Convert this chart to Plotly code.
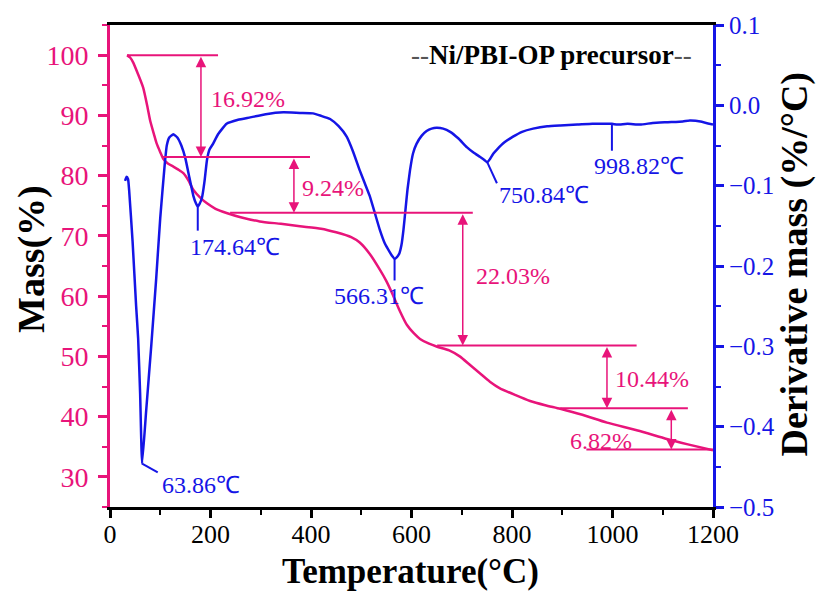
import numpy as np
import plotly.graph_objects as go

# ---- data -------------------------------------------------------------
# TG curve: residual mass (%) vs temperature (°C)
temp_mass = [34, 40, 46, 55, 66, 75, 80, 87, 93, 100, 106, 115, 126, 136, 146,
             156, 166, 180, 193, 210, 232, 260, 298, 340, 378, 420, 450, 480,
             497, 517, 537, 550, 563, 577, 591, 605, 617, 635, 651, 675, 696,
             716, 736, 756, 776, 806, 836, 866, 896, 940, 989, 1050, 1108,
             1150, 1200]
mass_pct = [100.0, 99.6, 98.8, 97.0, 94.6, 91.2, 89.1, 87.0, 85.3, 83.9, 82.8,
            82.0, 81.5, 81.0, 80.4, 79.2, 77.6, 76.3, 75.4, 74.5, 73.8, 73.1,
            72.4, 72.0, 71.6, 71.2, 70.6, 69.8, 68.9, 67.0, 64.4, 62.5, 60.2,
            57.5, 55.2, 53.8, 52.9, 52.1, 51.6, 51.0, 50.0, 48.6, 47.2, 45.8,
            44.7, 43.6, 42.6, 41.9, 41.3, 40.3, 39.0, 37.7, 36.3, 35.4, 34.4]

# DTG curve: derivative mass (%/°C) vs temperature (°C)
temp_dtg = [30, 33, 36, 38, 45, 52, 56, 60, 63.86, 72, 82, 92, 100, 109, 113,
            118, 126, 134, 142, 150, 158, 166, 171, 174.64, 178, 183, 188, 193,
            198, 205, 215, 232, 255, 279, 310, 345, 378, 404, 420, 438, 455,
            471, 484, 497, 507, 517, 527, 537, 547, 557, 562, 566.31, 571, 576,
            580, 584, 588, 592, 597, 603, 610, 620, 630, 640, 650, 663, 677,
            693, 710, 724, 736, 745, 750.84, 756, 763, 770, 785, 802, 820, 842,
            870, 896, 930, 960, 985, 998.82, 1010, 1030, 1055, 1080, 1110, 1140,
            1154, 1175, 1200]
dtg_rate = [-0.094, -0.089, -0.092, -0.105, -0.170, -0.250, -0.290, -0.360,
            -0.446, -0.380, -0.300, -0.215, -0.140, -0.073, -0.050, -0.040,
            -0.036, -0.040, -0.050, -0.066, -0.090, -0.113, -0.122, -0.126,
            -0.123, -0.115, -0.095, -0.068, -0.055, -0.048, -0.036, -0.023,
            -0.018, -0.015, -0.011, -0.0087, -0.0095, -0.010, -0.013, -0.017,
            -0.026, -0.039, -0.058, -0.081, -0.097, -0.113, -0.134, -0.155,
            -0.172, -0.183, -0.188, -0.191, -0.189, -0.184, -0.174, -0.155,
            -0.130, -0.105, -0.081, -0.060, -0.048, -0.038, -0.032, -0.029,
            -0.028, -0.029, -0.033, -0.041, -0.052, -0.059, -0.064, -0.068,
            -0.071, -0.067, -0.060, -0.055, -0.046, -0.039, -0.033, -0.029,
            -0.026, -0.025, -0.024, -0.023, -0.023, -0.023, -0.024, -0.023,
            -0.024, -0.022, -0.021, -0.020, -0.019, -0.020, -0.024]

peak_temps = [63.86, 174.64, 566.31, 750.84, 998.82]
step_losses = [16.92, 9.24, 22.03, 10.44, 6.82]
x_ticks = [0, 200, 400, 600, 800, 1000, 1200]
mass_ticks = [30, 40, 50, 60, 70, 80, 90, 100]
dtg_ticks = [-0.5, -0.4, -0.3, -0.2, -0.1, 0.0, 0.1]

# ---- styling / layout constants ---------------------------------------
PINK = "#E8147A"
BLUE = "#1515E6"
SERIF = "Liberation Serif, Times New Roman, serif"

# horizontal reference lines (T start, T end) for each mass plateau
level_spans = [(34, 215), (105, 398), (239, 722), (651, 1048), (896, 1150), (948, 1200)]
arrow_x = [181, 366, 702, 989, 1117]
loss_label_pos = [(275, 92.7), (444, 77.9), (801, 63.4), (1079, 46.3), (978, 36.0)]
# leader line end points and label positions for DTG peaks
leader_end = [(95, -0.457), (174.64, -0.156), (566.31, -0.218), (770, -0.097), (998.82, -0.0565)]
peak_label_pos = [(99, -0.472, "left"), (249, -0.176, "center"), (535, -0.2376, "center"),
                  (864, -0.112, "center"), (1053, -0.075, "center")]

# plateau levels derived from the step losses
levels = [100.0]
for loss in step_losses:
    levels.append(round(levels[-1] - loss, 2))

fig = go.Figure()
fig.add_trace(go.Scatter(x=temp_mass, y=mass_pct, mode="lines", yaxis="y",
                         line=dict(color=PINK, width=2.5, shape="spline", smoothing=0.6),
                         showlegend=False, hoverinfo="skip"))
fig.add_trace(go.Scatter(x=temp_dtg, y=dtg_rate, mode="lines", yaxis="y2",
                         line=dict(color=BLUE, width=2.5, shape="spline", smoothing=0.4),
                         showlegend=False, hoverinfo="skip"))

shapes = []
annotations = []

# plateau lines
for lvl, (x0, x1) in zip(levels, level_spans):
    shapes.append(dict(type="line", xref="x", yref="y", x0=x0, x1=x1, y0=lvl, y1=lvl,
                       line=dict(color=PINK, width=2)))

# double-headed arrows and loss labels
for i, loss in enumerate(step_losses):
    annotations.append(dict(x=arrow_x[i], y=levels[i + 1], ax=arrow_x[i], ay=levels[i],
                            xref="x", yref="y", axref="x", ayref="y", text="",
                            showarrow=True, arrowside="end+start", arrowhead=2,
                            arrowsize=1.4, arrowwidth=1.5, arrowcolor=PINK, standoff=0,
                            startstandoff=0))
    lx, ly = loss_label_pos[i]
    annotations.append(dict(x=lx, y=ly, xref="x", yref="y", text=f"{loss:.2f}%",
                            xanchor="center", yanchor="middle", showarrow=False,
                            font=dict(family=SERIF, size=24, color=PINK)))

# DTG peak markers
for i, pk in enumerate(peak_temps):
    py = float(np.interp(pk, temp_dtg, dtg_rate))
    ex, ey = leader_end[i]
    shapes.append(dict(type="line", xref="x", yref="y2", x0=pk, y0=py, x1=ex, y1=ey,
                       line=dict(color=BLUE, width=2)))
    lx, ly, anc = peak_label_pos[i]
    annotations.append(dict(x=lx, y=ly, xref="x", yref="y2", text=f"{pk:.2f}℃",
                            xanchor=anc, yanchor="middle", showarrow=False,
                            font=dict(family=SERIF, size=24, color=BLUE)))

# sample name
annotations.append(dict(x=0.733, y=0.938, xref="paper", yref="paper", showarrow=False,
                        xanchor="center", yanchor="middle",
                        text="<span style='font-weight:normal;color:#555'>--</span>"
                             "<b>Ni/PBI-OP precursor</b>"
                             "<span style='font-weight:normal;color:#555'>--</span>",
                        font=dict(family=SERIF, size=27, color="black")))

# axis titles
title_font = dict(family=SERIF, size=38, color="black")
annotations.append(dict(x=-0.129, y=0.515, xref="paper", yref="paper", showarrow=False,
                        xanchor="center", yanchor="middle",
                        text="<b>Mass(%)</b>", textangle=-90, font=title_font))
annotations.append(dict(x=0.499, y=-0.1335, xref="paper", yref="paper", showarrow=False,
                        xanchor="center", yanchor="middle",
                        text="<b>Temperature(°C)</b>",
                        font=dict(family=SERIF, size=35, color="black")))
annotations.append(dict(x=1.136, y=0.503, xref="paper", yref="paper", showarrow=False,
                        xanchor="center", yanchor="middle",
                        text="<b>Derivative mass (%/°C)</b>", textangle=-90, font=title_font))

fig.update_layout(
    width=819, height=593,
    margin=dict(l=110, r=106, t=20, b=86),
    paper_bgcolor="white", plot_bgcolor="white",
    shapes=shapes, annotations=annotations,
    xaxis=dict(range=[0, 1200], tickvals=x_ticks, ticks="outside", ticklen=8,
               tickwidth=2.5, tickcolor="black", linecolor="black", linewidth=3,
               mirror=True, showgrid=False, zeroline=False, ticklabelstandoff=-6,
               tickfont=dict(family=SERIF, size=26, color="black"),
               minor=dict(dtick=100, tick0=0, ticks="outside", ticklen=5,
                          tickwidth=2, tickcolor="black")),
    yaxis=dict(range=[25, 105], tickvals=mass_ticks, ticks="outside", ticklen=9,
               tickwidth=2.5, tickcolor=PINK, linecolor=PINK, linewidth=3,
               showgrid=False, zeroline=False, ticklabelstandoff=4,
               tickfont=dict(family=SERIF, size=28, color=PINK),
               minor=dict(dtick=5, tick0=0, ticks="outside", ticklen=5,
                          tickwidth=2, tickcolor=PINK)),
    yaxis2=dict(range=[-0.5, 0.1], tickvals=dtg_ticks, tickformat=".1f",
                overlaying="y", side="right", ticks="outside", ticklen=8,
                tickwidth=2.5, tickcolor=BLUE, linecolor=BLUE, linewidth=3,
                showgrid=False, zeroline=False,
                tickfont=dict(family=SERIF, size=25, color=BLUE),
                minor=dict(dtick=0.05, tick0=0, ticks="outside", ticklen=5,
                           tickwidth=2, tickcolor=BLUE)),
)

fig.write_html("out.html")
